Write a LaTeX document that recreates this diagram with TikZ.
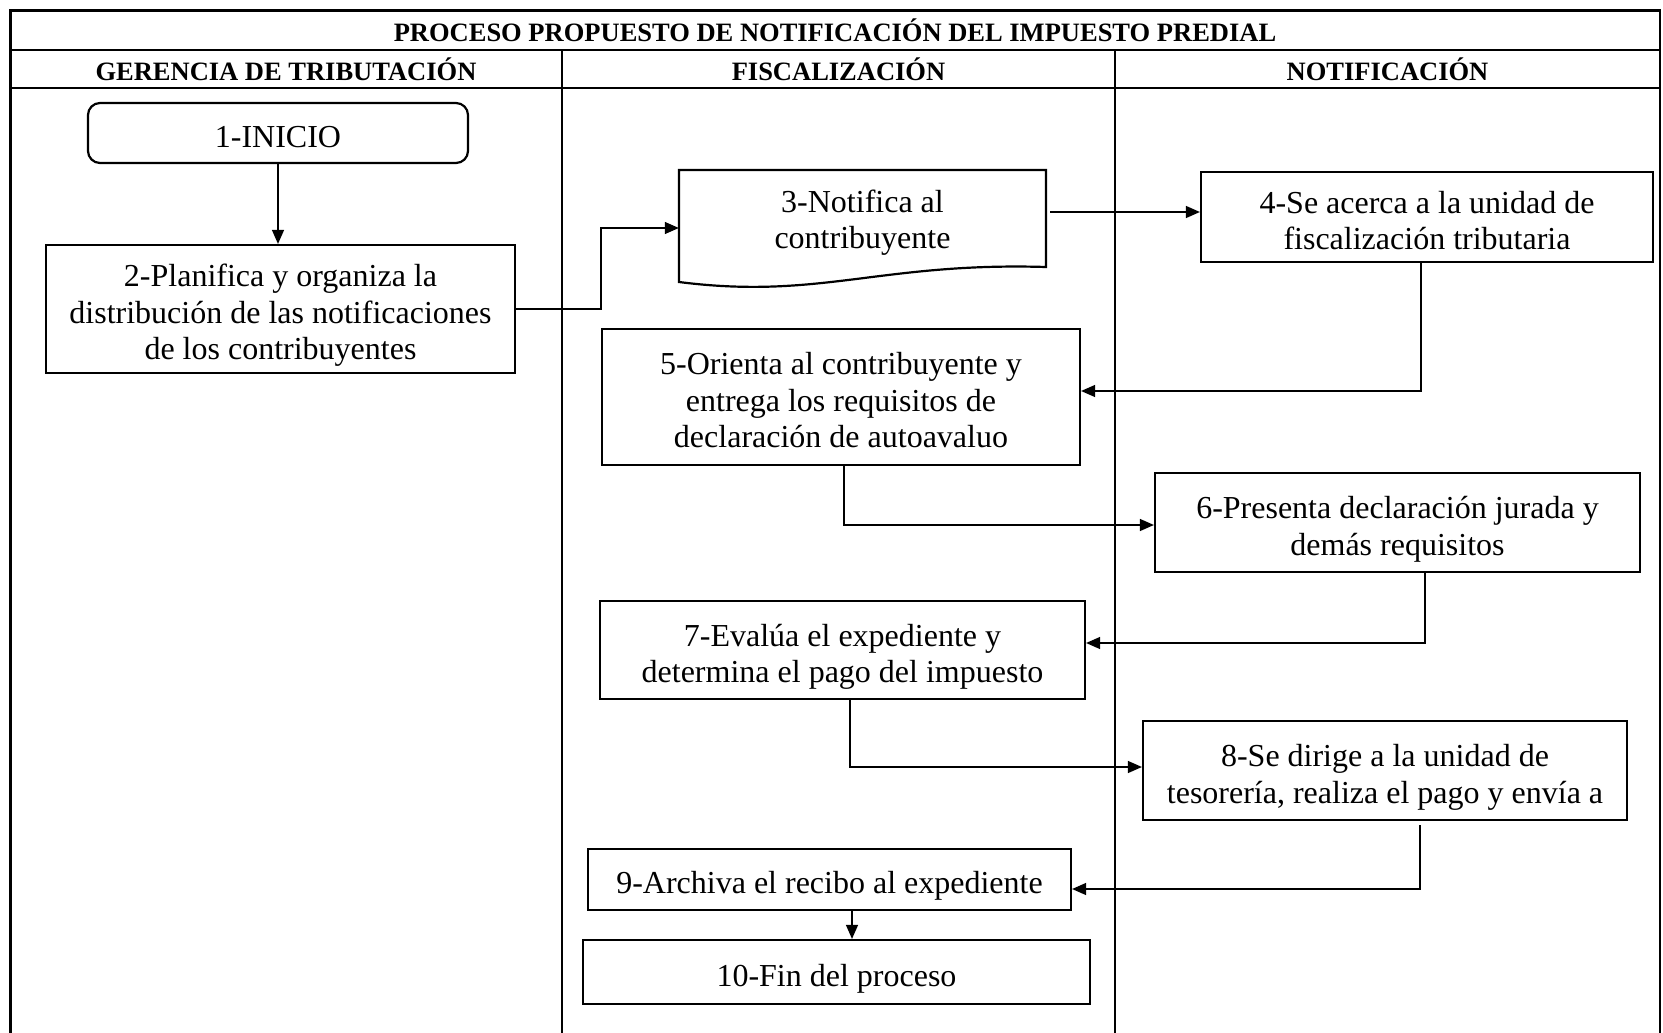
\documentclass[tikz,border=0pt]{standalone}
\usepackage{fontspec}
\setmainfont{Liberation Serif}
\usetikzlibrary{arrows.meta,calc}
\newcommand{\bxtext}[1]{\raisebox{-7pt}[\height][\depth]{\begin{tabular}{@{}c@{}}#1\end{tabular}}}
\begin{document}
\begin{tikzpicture}[x=1pt,y=-1pt,
  boxstyle/.style={draw, line width=2.2pt, align=center, inner sep=0pt, font=\fontsize{32}{36.6}\selectfont},
  conn/.style={line width=1.3pt, -{Triangle[length=14pt,width=12pt]}},
  frameline/.style={line width=2.6pt},
  laneline/.style={line width=1.6pt},
  hdr/.style={font=\fontsize{26.5}{30}\selectfont\bfseries}]
\useasboundingbox (0,0) rectangle (1663,1033);
% frame
\draw[laneline] (562,50) -- (562,1033);
\draw[laneline] (1115,50) -- (1115,1033);
\draw[frameline] (10.6,1033) -- (10.6,10.6) -- (1660,10.6) -- (1660,1033);
\draw[frameline] (10.6,50) -- (1660,50);
\draw[frameline] (10.6,88) -- (1660,88);
% headers
\node[hdr] (title) at (835,30) {PROCESO PROPUESTO DE NOTIFICACIÓN DEL IMPUESTO PREDIAL};
\node[hdr] (lane1) at (286,69) {GERENCIA DE TRIBUTACIÓN};
\node[hdr] (lane2) at (838.5,69) {FISCALIZACIÓN};
\node[hdr] (lane3) at (1387.5,69) {NOTIFICACIÓN};
% nodes
\node[boxstyle, rounded corners=12pt, minimum width=380pt, minimum height=60pt] (n1) at (278,133) {\bxtext{1-INICIO}};
\node[boxstyle, minimum width=469pt, minimum height=128pt] (n2) at (280.5,309) {\bxtext{2-Planifica y organiza la\\distribución de las notificaciones\\de los contribuyentes}};
\node[minimum width=367pt, minimum height=116pt, inner sep=0pt] (n3) at (862.5,228) {};
\draw[line width=2.2pt] (679,170) -- (1046,170) -- (1046,267) .. controls (880,262) and (820,300) .. (679,282) -- cycle;
\node[boxstyle, draw=none] (n3t) at (862.5,216) {\bxtext{3-Notifica al\\contribuyente}};
\node[boxstyle, minimum width=452pt, minimum height=90pt] (n4) at (1427,217) {\bxtext{4-Se acerca a la unidad de\\fiscalización tributaria}};
\node[boxstyle, minimum width=478pt, minimum height=136pt] (n5) at (841,397) {\bxtext{5-Orienta al contribuyente y\\entrega los requisitos de\\declaración de autoavaluo}};
\node[boxstyle, minimum width=485pt, minimum height=99pt] (n6) at (1397.5,522.5) {\bxtext{6-Presenta declaración jurada y\\demás requisitos}};
\node[boxstyle, minimum width=485pt, minimum height=98pt] (n7) at (842.5,650) {\bxtext{7-Evalúa el expediente y\\determina el pago del impuesto}};
\node[boxstyle, minimum width=484pt, minimum height=99pt] (n8) at (1385,770.5) {\bxtext{8-Se dirige a la unidad de\\tesorería, realiza el pago y envía a}};
\node[boxstyle, minimum width=483pt, minimum height=61pt] (n9) at (829.5,879.5) {\bxtext{9-Archiva el recibo al expediente}};
\node[boxstyle, minimum width=507pt, minimum height=64pt] (n10) at (836.5,972) {\bxtext{10-Fin del proceso}};
% connectors
\draw[conn] (n1.south) -- (n1.south |- n2.north);
\draw[conn] (n2.east) -- ++(85,0) |- (n3.west);
\draw[conn] ($(n3.east |- n4.west)+(4,-5)$) -- ($(n4.west)+(0,-5)$);
\draw[conn] ($(n4.south)+(-6,0)$) |- ($(n5.east)+(0,-6)$);
\draw[conn] ($(n5.south)+(3,0)$) |- ($(n6.west)+(0,2.5)$);
\draw[conn] ($(n6.south)+(27.5,0)$) |- ($(n7.east)+(0,-7)$);
\draw[conn] ($(n7.south)+(7.5,0)$) |- ($(n8.west)+(0,-3.5)$);
\draw[conn] ($(n8.south)+(35,4)$) |- ($(n9.east)+(0,9.5)$);
\draw[conn] ($(n9.south)+(22.5,0)$) -- ($(n10.north)+(15.5,0)$);
\end{tikzpicture}
\end{document}
